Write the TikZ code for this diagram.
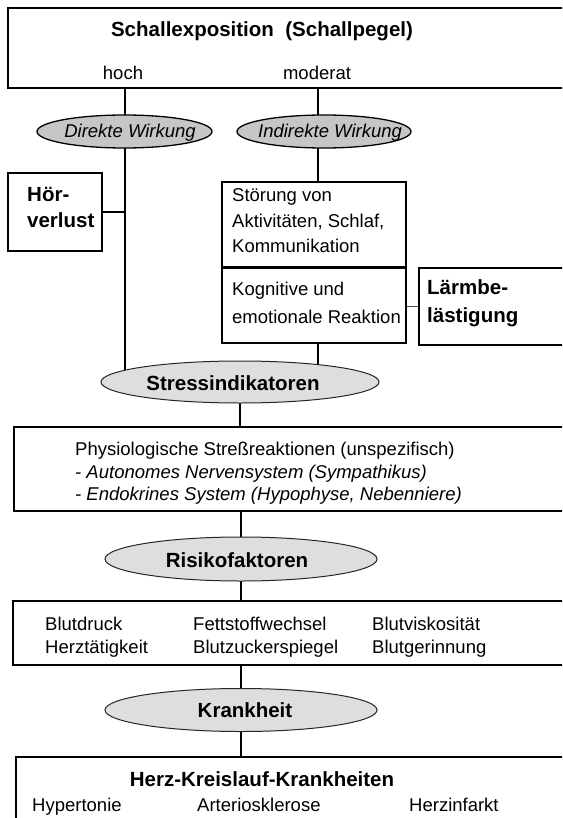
\documentclass[tikz,border=0pt]{standalone}
\usepackage{fontspec}
\setmainfont{Liberation Sans}
\usetikzlibrary{shapes.geometric,backgrounds}
\definecolor{ellDark}{RGB}{198,198,198}
\definecolor{ellLight}{RGB}{222,222,222}
\newcommand\rgfont{\fontsize{18.5}{22}\selectfont}
\newcommand\bdfont{\fontsize{20.5}{24}\selectfont\bfseries}
\begin{document}
\begin{tikzpicture}[x=1pt,y=-1pt,
  box/.style={rectangle,draw=black,line width=2.4pt,fill=white,inner sep=0pt},
  ellA/.style={ellipse,draw=black,line width=1.3pt,fill=ellDark,inner sep=0pt},
  ellB/.style={ellipse,draw=black!85,line width=1pt,fill=ellLight,inner sep=0pt},
  conn/.style={line width=2pt},
  thin/.style={line width=1.2pt,draw=black!70},
  txt/.style={inner sep=0pt,font=\rgfont},
  itxt/.style={inner sep=0pt,font=\rgfont\itshape},
  btxt/.style={inner sep=0pt,font=\bdfont}]
\useasboundingbox (0,0) rectangle (562,818);
\clip (0,0) rectangle (562,818);

% boxes
\node[box,minimum width=567pt,minimum height=80pt] (top) at (291.5,48) {};
\node[box,minimum width=94pt,minimum height=78pt] (hor) at (55,212) {};
\node[box,minimum width=184pt,minimum height=85pt] (stoerA) at (314,224.5) {};
\node[box,minimum width=184pt,minimum height=76pt] (stoerB) at (314,305) {};
\node[box,minimum width=156pt,minimum height=77pt] (laerm) at (497,306.5) {};
\node[box,minimum width=561pt,minimum height=84pt] (physio) at (294.5,469) {};
\node[box,minimum width=562pt,minimum height=64pt] (blut) at (294,633) {};
\node[box,minimum width=559pt,minimum height=78pt] (herz) at (295.5,796) {};
% redraw divider thinner
\draw[line width=2pt] (stoerA.south west) -- (stoerA.south east);

% ellipses
\node[ellA,minimum width=175pt,minimum height=33pt] (dir) at (124.5,131.5) {};
\node[ellA,minimum width=174pt,minimum height=33pt] (ind) at (324,131.5) {};
\node[ellB,minimum width=278pt,minimum height=42pt] (stress) at (240,382) {};
\node[ellB,minimum width=272pt,minimum height=44pt] (risiko) at (241,559) {};
\node[ellB,minimum width=272pt,minimum height=43pt] (krank) at (241,710) {};

\coordinate (mx) at (318,0);

% connectors (behind)
\begin{pgfonlayer}{background}
\draw[conn] (dir.center) -- (dir.center |- top.south);
\draw[conn] (dir.center) -- (dir.center |- stress.center);
\draw[conn] (mx |- ind.center) -- (mx |- top.south);
\draw[conn] (mx |- ind.center) -- (mx |- stoerA.north);
\draw[conn] (mx |- stoerB.south) -- (mx |- stress.center);
\draw[conn] (hor.east) -- (hor.east -| dir.center);
\draw[thin] (laerm.west) -- (laerm.west -| stoerB.east);
\draw[conn] (stress.center) -- (stress.center |- physio.north);
\draw[conn] (risiko.center) -- (risiko.center |- physio.south);
\draw[conn] (risiko.center) -- (risiko.center |- blut.north);
\draw[conn] (krank.center) -- (krank.center |- blut.south);
\draw[conn] (krank.center) -- (krank.center |- herz.north);
\end{pgfonlayer}

% texts
\node[btxt,anchor=base] (ttitle) at (262,37) {Schallexposition\ \ (Schallpegel)};
\node[txt,anchor=base] (thoch) at (123,80) {hoch};
\node[txt,anchor=base] (tmod) at (317,80) {moderat};
\node[itxt,anchor=base] (tdir) at (130,138) {Direkte Wirkung};
\node[itxt,anchor=base] (tind) at (330,138) {Indirekte Wirkung};
\node[btxt,anchor=base west] (thorA) at (27,202) {Hör-};
\node[btxt,anchor=base west] (thorB) at (27,228) {verlust};
\node[txt,anchor=base west] (tsA) at (232,202) {Störung von};
\node[txt,anchor=base west] (tsB) at (232,227) {Aktivitäten, Schlaf,};
\node[txt,anchor=base west] (tsC) at (232,252) {Kommunikation};
\node[txt,anchor=base west] (tsD) at (232,295) {Kognitive und};
\node[txt,anchor=base west] (tsE) at (232,323) {emotionale Reaktion};
\node[btxt,anchor=base west] (tlA) at (427,294) {Lärmbe-};
\node[btxt,anchor=base west] (tlB) at (427,322) {lästigung};
\node[btxt,anchor=base] (tstress) at (233,390) {Stressindikatoren};
\node[txt,anchor=base west] (tpA) at (75,455) {Physiologische Streßreaktionen (unspezifisch)};
\node[itxt,anchor=base west] (tpB) at (75,478) {- Autonomes Nervensystem (Sympathikus)};
\node[itxt,anchor=base west] (tpC) at (75,500) {- Endokrines System (Hypophyse, Nebenniere)};
\node[btxt,anchor=base] (trisiko) at (237,567) {Risikofaktoren};
\node[txt,anchor=base west] (tbA) at (45,630) {Blutdruck};
\node[txt,anchor=base west] (tbB) at (45,653) {Herztätigkeit};
\node[txt,anchor=base west] (tbC) at (193,630) {Fettstoffwechsel};
\node[txt,anchor=base west] (tbD) at (193,653) {Blutzuckerspiegel};
\node[txt,anchor=base west] (tbE) at (372,630) {Blutviskosität};
\node[txt,anchor=base west] (tbF) at (372,653) {Blutgerinnung};
\node[btxt,anchor=base] (tkrank) at (245,717) {Krankheit};
\node[btxt,anchor=base] (therz) at (262,786) {Herz-Kreislauf-Krankheiten};
\node[txt,anchor=base west] (thA) at (32,811) {Hypertonie};
\node[txt,anchor=base west] (thB) at (197,811) {Arteriosklerose};
\node[txt,anchor=base west] (thC) at (409,811) {Herzinfarkt};
\end{tikzpicture}
\end{document}
